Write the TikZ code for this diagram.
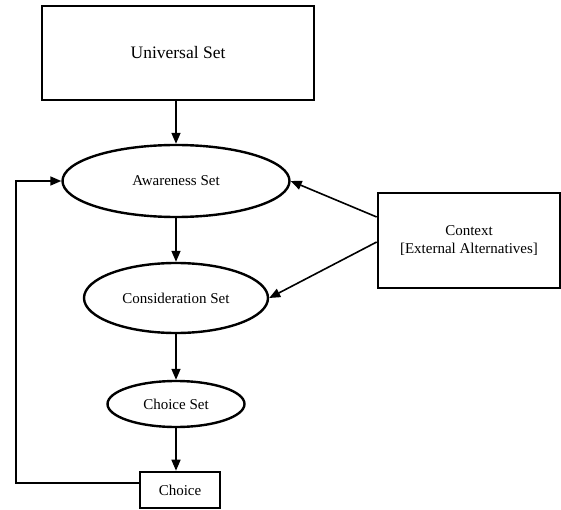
\documentclass[tikz,border=0pt]{standalone}
\usepackage{fontspec}
\setmainfont{Liberation Serif}
\usetikzlibrary{shapes.geometric,arrows.meta}
\begin{document}
\begin{tikzpicture}[x=1pt,y=-1pt,
  box/.style={draw,line width=2.6pt,inner sep=0pt,align=center,font=\fontsize{15}{17.5}\selectfont},
  setoval/.style={draw,ellipse,line width=2.4pt,inner sep=0pt,font=\fontsize{15}{17.5}\selectfont},
  flow/.style={line width=1.6pt,-{Triangle[length=11pt,width=9pt]}}]
  \useasboundingbox (0,0) rectangle (561,510);
  % nodes
  \node[box,minimum width=272pt,minimum height=94pt,font=\fontsize{17.5}{20}\selectfont] (univ) at (178,53) {Universal Set};
  \node[setoval,minimum width=227pt,minimum height=72pt] (aware) at (176,181) {Awareness Set};
  \node[setoval,minimum width=184pt,minimum height=70pt] (consid) at (176,298) {Consideration Set};
  \node[setoval,minimum width=137pt,minimum height=46pt] (choiceset) at (176,404) {Choice Set};
  \node[box,minimum width=80pt,minimum height=36pt] (choice) at (180,490) {Choice};
  \node[box,minimum width=182pt,minimum height=95pt] (context) at (469,240.5) {Context\\{}[External Alternatives]};
  \coordinate (loopcorner) at (16,483);
  % connectors
  \draw[flow] (univ.south -| aware.north) -- (aware.north);
  \draw[flow] (aware.south) -- (consid.north);
  \draw[flow] (consid.south) -- (choiceset.north);
  \draw[flow] (choiceset.south) -- (choiceset.south |- choice.north);
  \draw[flow] (context.west |- 0,217) -- (aware.east);
  \draw[flow] (context.west |- 0,242) -- (consid.east);
  \draw[flow] (choice.west |- loopcorner) -- (loopcorner) |- (aware.west);
\end{tikzpicture}
\end{document}
